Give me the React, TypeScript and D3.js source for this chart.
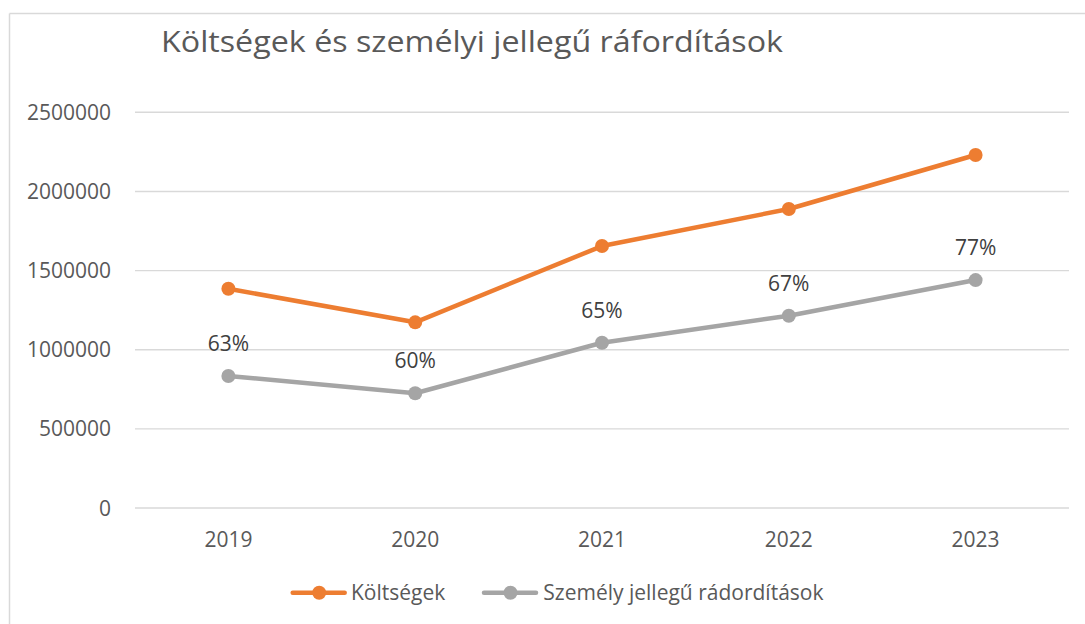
import React from "react";
import * as d3 from "d3";

const years = ["2019", "2020", "2021", "2022", "2023"];
const koltsegek = [1385000, 1173000, 1655000, 1889000, 2230000];
const szemelyi = [834000, 725000, 1044000, 1215000, 1440000];
const pctLabels = ["63%", "60%", "65%", "67%", "77%"];
const yTicks = [0, 500000, 1000000, 1500000, 2000000, 2500000];
const title = "Költségek és személyi jellegű ráfordítások";
const seriesNames = ["Költségek", "Személy jellegű rádordítások"];

const W = 1085;
const H = 624;
const ORANGE = "#ED7D31";
const GRAY = "#A5A5A5";
const FONT = "'Open Sans', 'Noto Sans', sans-serif";

export default function App() {
  const x = d3.scaleBand().domain(years).range([135, 1069]);
  const cx = (d: string) => (x(d) as number) + x.bandwidth() / 2;
  const y = d3.scaleLinear().domain([0, 2500000]).range([508, 112.3]);
  const line = d3
    .line<number>()
    .x((_, i) => cx(years[i]))
    .y((v) => y(v));

  const series = [
    { name: seriesNames[0], values: koltsegek, color: ORANGE },
    { name: seriesNames[1], values: szemelyi, color: GRAY },
  ];

  const legendItems = [
    { lx: 292.7, tx: 351, color: ORANGE, name: seriesNames[0] },
    { lx: 484, tx: 543.3, color: GRAY, name: seriesNames[1] },
  ];

  return (
    <svg
      width={W}
      height={H}
      style={{ position: "absolute", left: 0, top: 0, background: "#fff" }}
      fontFamily={FONT}
    >
      <rect x={0} y={0} width={W} height={H} fill="#fff" />
      <line x1={9.5} y1={13.5} x2={W + 5} y2={13.5} stroke="#d9d9d9" strokeWidth={1.5} />
      <line x1={9.5} y1={13.5} x2={9.5} y2={H + 5} stroke="#d9d9d9" strokeWidth={1.5} />

      <text
        x={161}
        y={52}
        fontSize={30}
        fill="#595959"
        textLength={622}
        lengthAdjust="spacingAndGlyphs"
      >
        {title}
      </text>

      {yTicks.map((t) => (
        <g key={t}>
          <line x1={135} x2={1069} y1={y(t)} y2={y(t)} stroke="#d9d9d9" strokeWidth={1.4} />
          <text x={111} y={y(t) + 7.5} textAnchor="end" fontSize={21} fill="#595959">
            {t}
          </text>
        </g>
      ))}

      {years.map((yr) => (
        <text key={yr} x={cx(yr)} y={547} textAnchor="middle" fontSize={21} fill="#595959">
          {yr}
        </text>
      ))}

      {series.map((s) => (
        <g key={s.name}>
          <path
            d={line(s.values) as string}
            fill="none"
            stroke={s.color}
            strokeWidth={4.5}
            strokeLinejoin="round"
            strokeLinecap="round"
          />
          {s.values.map((v, i) => (
            <circle key={i} cx={cx(years[i])} cy={y(v)} r={7} fill={s.color} />
          ))}
        </g>
      ))}

      {szemelyi.map((v, i) => (
        <text
          key={i}
          x={cx(years[i])}
          y={y(v) - 25}
          textAnchor="middle"
          fontSize={21}
          fill="#404040"
        >
          {pctLabels[i]}
        </text>
      ))}

      {legendItems.map((it) => (
        <g key={it.name}>
          <line
            x1={it.lx}
            x2={it.lx + 52}
            y1={592.7}
            y2={592.7}
            stroke={it.color}
            strokeWidth={4.5}
            strokeLinecap="round"
          />
          <circle cx={it.lx + 26.5} cy={592.7} r={7} fill={it.color} />
          <text x={it.tx} y={600} fontSize={21} fill="#595959">
            {it.name}
          </text>
        </g>
      ))}
    </svg>
  );
}
